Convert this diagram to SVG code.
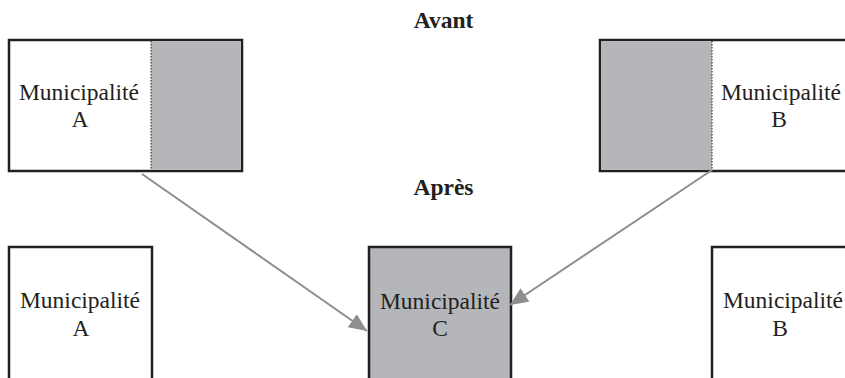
<svg xmlns="http://www.w3.org/2000/svg" width="845" height="378" viewBox="0 0 845 378">
  <style>
    .box { fill: #ffffff; stroke: #231f20; stroke-width: 2.5; }
    .shade { fill: #b5b6b9; stroke: none; }
    .grey { fill: #b5b6b9; stroke: #231f20; stroke-width: 2.5; }
    .divider { stroke: #231f20; stroke-width: 1; stroke-dasharray: 1.5 1.5; }
    text { font-family: 'Liberation Serif', 'Times New Roman', serif; fill: #231f20; text-anchor: middle; }
    .label { font-size: 23.5px; }
    .title { font-size: 23.5px; font-weight: bold; }
    .link { stroke: #8e8e90; stroke-width: 2; fill: none; }
  </style>
  <defs>
    <marker id="arrow" markerUnits="userSpaceOnUse" markerWidth="20" markerHeight="16" refX="18" refY="8" orient="auto">
      <path d="M0,0 L18,8 L0,16 Z" fill="#8e8e90"/>
    </marker>
  </defs>

  <text class="title" x="443.5" y="28">Avant</text>
  <text class="title" x="443.5" y="195">Après</text>

  <!-- before: municipality A with the part that is transferred -->
  <g id="avant-a">
    <rect class="box" x="9" y="40" width="233" height="131"/>
    <rect class="shade" x="151" y="41.25" width="89.75" height="128.5"/>
    <line class="divider" x1="151" y1="41" x2="151" y2="170"/>
    <text class="label" x="79" y="100">Municipalité</text>
    <text class="label" x="80" y="127">A</text>
  </g>

  <!-- before: municipality B with the part that is transferred -->
  <g id="avant-b">
    <rect class="box" x="600" y="40" width="260" height="131"/>
    <rect class="shade" x="601.25" y="41.25" width="110.75" height="128.5"/>
    <line class="divider" x1="712" y1="41" x2="712" y2="170"/>
    <text class="label" x="781" y="100">Municipalité</text>
    <text class="label" x="779" y="127">B</text>
  </g>

  <!-- after -->
  <g id="apres-a">
    <rect class="box" x="9" y="247" width="143" height="150"/>
    <text class="label" x="80" y="308">Municipalité</text>
    <text class="label" x="81" y="336">A</text>
  </g>

  <g id="apres-c">
    <rect class="grey" x="369" y="247" width="142" height="150"/>
    <text class="label" x="440" y="309">Municipalité</text>
    <text class="label" x="440" y="336">C</text>
  </g>

  <g id="apres-b">
    <rect class="box" x="712" y="247" width="150" height="150"/>
    <text class="label" x="783" y="308">Municipalité</text>
    <text class="label" x="780" y="336">B</text>
  </g>

  <g id="connectors">
    <line class="link" x1="142" y1="174" x2="367" y2="331" marker-end="url(#arrow)"/>
    <line class="link" x1="712" y1="170" x2="510" y2="305" marker-end="url(#arrow)"/>
  </g>
</svg>
